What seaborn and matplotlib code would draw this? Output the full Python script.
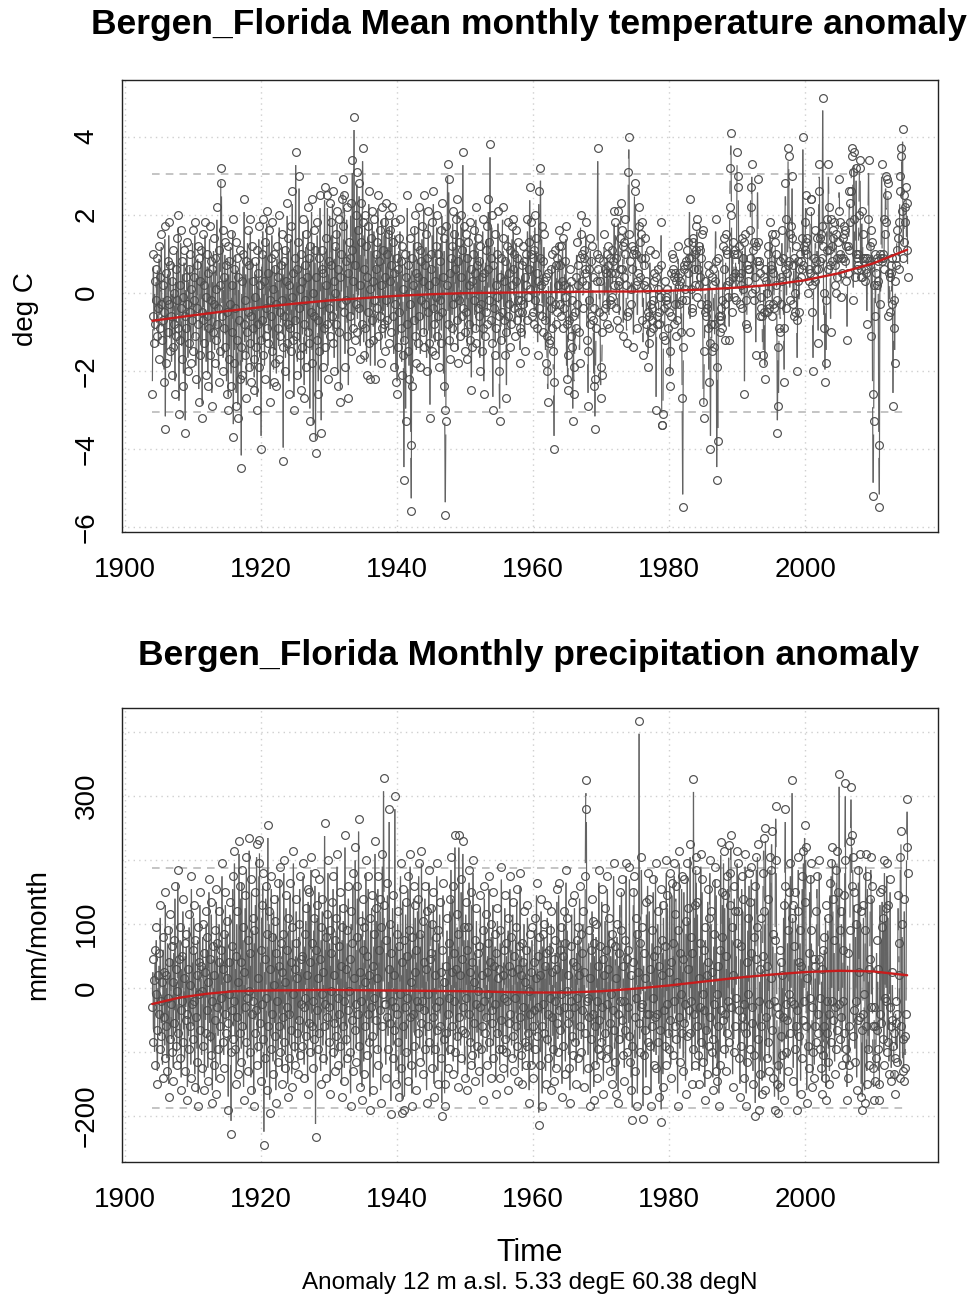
import numpy as np
import pandas as pd
import matplotlib
matplotlib.use("Agg")
import matplotlib.pyplot as plt
from matplotlib.collections import LineCollection
import seaborn as sns

# ---------------- data ----------------
start_year = 1904  # monthly series start in January 1904

temp_1904_1919 = [
    -2.6, -0.6, 1.0, -1.3, 0.3, -0.8, -0.2, 0.6, -1.1, 0.9, -0.4, -1.7,
    1.2, -0.9, 0.4, -0.3, 1.5, -1.2, -0.7, 0.2, -0.5, -2.3, 1.7, -3.5,
    0.5, -1.8, -0.2, 0.8, -1.0, 1.8, -0.3, -1.5, 0.7, -0.6, -2.1, 0.3,
    -1.4, 1.1, -0.8, 0.0, -2.6, 0.6, -1.1, 1.4, -0.2, -0.9, 2.0, -3.1,
    0.2, -1.2, 1.6, -0.4, -1.7, 0.8, -0.1, -2.4, 1.1, -0.6, -3.6, 0.4,
    -0.9, 1.3, -0.3, -2.0, 0.6, -1.3, 1.0, -0.5, -1.8, 0.1, -0.7, 1.6,
    -1.5, 0.4, -0.2, 1.8, -1.1, -2.2, 0.7, -0.4, 1.2, -0.8, -2.8, 0.9,
    0.3, -1.6, 1.1, -0.5, -3.2, 1.5, -0.7, 0.2, -1.3, 1.8, -0.1, -2.1,
    -0.6, 1.0, -2.4, 0.5, -0.9, 1.7, -1.6, -0.2, 0.8, -2.9, 0.6, -1.0,
    1.4, -0.3, -1.8, 0.9, -1.2, 0.1, 2.2, -0.8, -0.4, -2.3, 1.1, -1.5,
    0.2, 3.2, 2.8, -0.6, 1.6, -2.0, 0.4, -0.9, 1.3, -1.4, 0.7, -2.6,
    -0.5, 1.2, -3.0, 0.8, -1.7, -0.3, 1.5, -2.4, 0.2, -1.0, 1.9, -3.7,
    0.6, -1.8, -0.4, 1.3, -2.9, 0.9, -1.2, -3.2, 0.4, -0.7, 1.1, -2.2,
    -1.4, -4.5, 0.3, -2.1, 1.0, -0.8, 2.4, -1.6, -0.2, 0.8, -2.7, -1.0,
    1.6, -0.5, -1.9, 0.7, -1.3, 1.9, -0.6, -2.3, 1.2, -0.9, 0.3, -1.7,
    -2.5, 0.8, -0.1, -1.4, 1.1, -3.0, 0.5, -0.8, 1.7, -1.9, 0.2, -1.2,
]
temp_1920_1939 = [
    -4.0, 1.0, -0.7, 1.9, -1.6, 0.3, -2.2, 1.3, -0.4, -1.1, 2.1, -0.9,
    0.5, -1.3, 1.6, -0.2, -2.8, 0.9, -0.6, 1.8, -1.5, 0.1, -2.3, 1.0,
    -1.8, 0.6, -0.3, -2.4, 1.2, -0.9, 0.4, -1.7, 2.0, -0.5, -1.1, 0.7,
    -0.2, 1.5, -1.4, -4.3, 0.8, -0.6, 1.1, -2.0, 0.3, -1.3, 2.3, -0.8,
    1.4, -2.6, 0.2, -0.9, 1.7, -1.5, -0.1, 2.6, -1.2, 0.5, -3.0, 0.9,
    -0.7, 3.6, -1.1, 0.6, -2.1, 1.3, -0.4, 3.0, -1.6, 0.1, -2.5, 1.0,
    0.3, -1.4, 1.9, -0.8, -2.7, 0.7, -0.2, 1.5, -1.9, 0.4, -1.0, 2.2,
    -1.3, 0.9, -3.3, 1.2, -0.5, 2.4, -1.8, 0.0, -3.7, 1.6, -0.6, 1.1,
    -4.1, 0.4, -1.2, 1.8, -0.7, -2.6, 0.9, -1.5, 2.5, -0.3, -3.6, 0.6,
    1.1, -1.9, 0.5, -0.9, 2.7, -1.4, 0.2, 1.4, -0.8, 2.5, -2.2, 0.8,
    -0.4, 2.3, -1.1, 0.7, 1.8, -0.6, 2.6, -1.3, 0.3, -2.0, 1.2, 0.0,
    1.5, -0.8, 2.1, -2.4, 0.6, -1.0, 1.9, 0.4, -2.8, 1.0, -0.3, 2.4,
    2.9, 1.7, -0.5, 2.5, -1.9, 0.8, -0.2, 2.2, -1.1, 0.5, -2.7, 1.3,
    0.9, -0.6, 2.3, -1.5, 1.1, 3.4, -0.9, 0.3, 4.5, -1.2, 0.7, 2.0,
    -0.3, 3.1, -1.0, 1.6, -0.4, 2.8, 0.2, -1.7, 1.3, 2.3, -0.8, 3.7,
    1.8, -1.6, 0.6, 2.0, -0.9, 1.2, -2.1, 0.4, 1.7, -0.5, 2.6, -1.3,
    0.1, -2.2, 1.4, -0.7, 2.1, 0.3, -1.2, 1.9, -0.2, -2.2, 1.0, 0.6,
    1.3, -0.4, 2.5, -1.1, 0.8, -0.6, 1.6, -1.8, 0.2, 2.2, -0.9, 1.1,
    -0.8, 1.8, 0.4, -1.5, 2.3, -0.2, 1.0, -0.7, 1.5, -1.3, 2.0, 0.3,
    1.6, -1.0, 0.7, 2.2, -0.6, 1.3, -1.9, 0.5, 1.8, -0.3, -2.3, 0.9,
]
temp_1940_1959 = [
    -2.6, 0.6, -1.4, 1.4, -0.5, 1.9, -0.9, 0.8, -2.1, 1.2, 0.1, -1.6,
    -4.8, -1.2, 1.0, -3.3, 0.4, -0.8, 2.5, -1.5, 0.7, -2.2, 1.4, -0.3,
    -3.9, -5.6, 0.9, -2.4, 0.2, 1.6, -0.7, 2.0, -1.1, 0.5, -1.8, 1.2,
    0.4, -1.3, 2.2, -0.6, 1.1, -1.9, 0.8, -0.2, 1.7, -1.0, 0.3, 2.5,
    -1.4, 0.7, -0.3, 1.5, -2.0, 0.9, -0.5, 2.1, -1.3, 0.2, -3.2, 1.0,
    0.6, -1.5, 1.8, -0.4, 2.6, -0.8, 0.3, -1.6, 1.2, -0.1, 2.0, -1.1,
    1.0, -0.6, -1.9, 0.8, -0.2, 1.6, -1.3, 2.3, -0.5, 0.4, -2.4, 1.4,
    -3.0, -5.7, -3.3, 1.7, 0.2, 3.3, -0.8, 2.9, -1.2, 0.5, -1.7, 0.9,
    1.2, -0.9, 2.1, -0.3, 1.5, -1.4, 0.6, -0.1, 1.9, -0.7, 2.4, -1.8,
    0.8, -0.2, 1.3, -1.1, 0.4, 2.0, -0.6, 1.1, 3.6, -0.4, 1.7, -1.5,
    -1.0, 1.5, -0.5, 0.9, -1.7, 1.3, 0.2, -0.8, 1.8, -1.2, 0.6, -2.5,
    0.3, -1.4, 1.0, -0.2, 1.6, -0.9, 0.5, 2.2, -1.3, 0.7, -0.4, 1.4,
    -0.6, 0.8, -2.0, 1.2, -0.3, 0.4, -1.5, 1.9, -0.9, -2.6, 0.5, -1.1,
    1.1, -0.5, 1.7, -0.8, 0.6, 2.4, -0.2, 1.3, 3.8, -0.7, 0.9, 2.0,
    -1.3, -3.0, 0.7, -0.4, 1.5, -1.6, 0.2, -0.9, 1.0, -0.1, 2.1, -0.6,
    -2.0, -3.3, 0.4, -1.2, 0.9, -0.5, 2.2, 1.4, -0.7, 0.3, -1.6, 0.8,
    -1.0, -2.7, 1.2, -0.6, 1.8, -0.3, 0.5, -1.4, 1.1, -0.8, 0.2, 1.7,
    0.6, 1.9, -0.4, 1.0, -1.1, 0.3, 1.6, -0.7, 0.9, -0.2, 1.3, -0.5,
    -0.9, -1.8, -0.2, -1.0, 0.7, -0.5, 1.2, -0.3, 0.8, -1.5, 0.4, 1.0,
    0.2, -0.7, 1.9, -0.1, 1.3, 0.6, 2.7, 0.1, 1.8, 1.0, -0.6, 0.9,
]
temp_1960_1979 = [
    -0.5, 1.1, -0.8, 2.0, -0.2, 1.4, -0.9, 0.5, -1.6, 0.3, 2.6, -0.4,
    0.9, 3.2, 0.2, 1.7, -0.6, 0.8, -1.0, 1.5, 0.3, -0.7, -1.8, 0.4,
    -1.1, -2.0, -2.8, 0.5, -1.3, -0.2, -1.2, 0.6, -0.4, 1.0, -0.9, -1.5,
    -2.3, -4.0, -0.3, 1.1, -0.8, 0.7, -0.5, 0.9, 0.2, 1.6, 1.2, -0.3,
    0.7, 1.2, -0.6, 0.3, 1.4, -0.9, 0.2, -0.4, 0.8, -0.1, 1.7, -2.2,
    -0.8, -2.5, -1.6, 0.1, -0.7, 0.6, -1.1, 0.3, -0.2, -1.4, -3.3, -0.6,
    -2.6, -1.9, -0.5, -0.9, 0.4, 1.3, -0.3, 0.2, 0.7, -1.0, -1.8, 0.9,
    2.0, 1.5, 1.0, 0.3, -0.4, 0.9, 1.1, 0.6, 0.5, 1.8, 0.2, -1.2,
    -1.5, -2.9, 0.6, -0.2, -0.8, 1.4, -0.6, 0.8, 1.2, 0.4, -0.7, -2.4,
    -0.4, -3.5, -2.2, -0.9, 0.3, 1.0, 3.7, 0.6, 0.9, -0.5, 0.3, -2.7,
    -1.9, -2.1, -1.0, -0.6, 0.8, 1.5, -0.4, 0.6, 0.5, -0.3, 1.0, -0.8,
    1.2, 0.7, -0.9, -0.2, 0.9, -0.3, 0.5, 1.1, -0.1, 0.8, 0.2, 2.1,
    0.5, 1.8, 0.9, -0.4, -0.7, 0.2, 2.1, 0.3, -0.9, 0.6, 1.4, 2.3,
    1.6, 0.6, 1.2, -1.1, 0.4, 1.3, 1.9, 1.0, 0.2, -1.3, -0.6, -0.5,
    3.1, 4.0, 1.5, 0.8, 0.1, -0.3, 0.6, 1.2, 1.0, -1.4, 1.1, 2.8,
    2.6, 0.2, 1.0, 0.3, -0.9, 0.5, 2.2, 1.7, 1.3, 0.4, 0.9, 1.5,
    1.8, -0.7, -1.6, 0.2, 0.7, 0.9, 1.4, 0.3, -0.8, 0.1, -0.5, -1.9,
    -0.6, -1.3, 1.1, -1.0, -0.3, -0.7, -0.4, -0.9, -0.2, 0.5, 0.3, 1.0,
    0.4, -3.0, -0.8, -0.6, 0.6, 0.1, -0.8, -0.5, -0.1, 0.7, 1.8, -3.4,
    -3.4, -3.1, -1.1, -0.4, -1.2, 0.3, -0.2, -0.1, 0.1, -0.3, -0.9, -0.5,
]
temp_1980_1999 = [
    -2.0, -1.5, -2.4, -0.6, 0.5, 1.0, 0.6, 0.9, 0.4, -0.8, -0.3, 0.5,
    -1.1, 0.3, -0.7, 0.4, 1.2, -0.3, 0.2, 0.3, 0.5, -1.0, -0.2, -2.7,
    -5.5, -1.4, 0.6, 0.7, 0.1, -0.2, 0.8, 1.1, 0.7, 0.5, 1.3, 0.9,
    2.4, -1.0, 0.9, 0.1, -0.4, -0.5, 1.4, 1.3, 0.6, 1.0, 0.2, 1.7,
    1.1, 1.9, -0.1, 0.6, 1.2, 0.2, 0.4, 1.1, -0.3, 0.9, 1.5, 1.6,
    -2.8, -3.2, -1.5, -0.5, 0.3, -0.6, -0.4, -0.3, -0.9, 0.7, -2.3, 0.5,
    -1.3, -4.0, -0.8, -1.5, 0.4, 0.6, 0.2, -0.8, -1.4, 0.3, 1.9, 0.8,
    -4.8, -1.9, -3.8, 0.9, -0.6, -1.0, -0.7, -0.4, -0.6, -0.2, -0.9, 1.2,
    1.4, 0.6, -1.2, -0.3, 1.1, 1.5, 1.0, 0.2, -0.1, 0.3, -1.2, 2.2,
    3.2, 4.1, 2.0, -0.5, 1.3, 0.4, 1.0, -0.1, 0.5, 1.1, -0.2, 1.0,
    3.6, 3.0, 2.7, 0.4, 1.2, -0.3, 0.2, 0.5, -0.4, 1.4, 0.1, 0.9,
    1.3, -2.6, 1.5, -0.2, -0.8, -0.9, 0.7, 0.6, 0.3, 0.6, 0.9, 1.6,
    2.7, 2.2, 3.3, 0.0, 1.1, 1.3, -0.2, 0.1, 0.4, -1.6, 1.2, 0.8,
    2.9, 1.3, 0.8, 0.7, 0.5, -0.6, -0.4, -0.1, -0.6, -1.6, -1.8, 0.4,
    -0.5, -2.2, 0.6, 0.3, 0.0, -0.5, 1.2, 1.0, -0.3, -0.4, 1.8, 0.6,
    0.7, 1.5, -0.6, 0.5, -0.3, -0.4, 1.3, 1.5, 0.2, 1.0, -0.2, -3.6,
    -1.4, -2.9, -0.9, 0.8, -1.0, -0.3, 0.4, 1.6, 0.3, 0.9, -0.9, -2.3,
    0.6, 2.8, 1.9, -0.4, 0.5, 0.7, 3.7, 3.5, 0.8, -0.2, 1.5, 1.7,
    1.4, 3.0, 0.7, -0.3, 0.9, -0.6, -0.5, 0.0, 1.2, -0.7, -2.0, 0.3,
    0.8, -0.5, 0.6, 1.0, 0.4, 0.8, 1.4, 0.6, 4.0, 0.7, 1.2, 1.8,
]
temp_2000_2015 = [
    1.1, 2.5, 1.3, 1.0, 1.4, 0.0, 0.3, 0.6, 0.5, 2.1, 2.4, 2.4,
    0.2, -0.5, -2.0, 0.4, 0.9, 0.3, 1.6, 0.8, 0.6, 1.4, 0.6, -1.3,
    2.6, 3.3, 0.8, 1.4, 1.5, 1.7, 0.9, 5.0, 1.2, -0.9, 0.0, -2.3,
    -0.2, -1.8, 1.9, 1.1, 0.6, 3.3, 2.2, 1.1, 0.7, -1.0, 1.9, 1.2,
    0.8, 1.6, 1.4, 1.8, 0.7, 0.2, 0.0, 1.5, 0.9, 0.4, 1.3, 2.1,
    2.9, 1.8, 1.0, 0.9, -0.1, 0.5, 1.4, 0.9, 1.7, 1.5, 0.8, 1.6,
    1.2, 0.3, -1.2, 0.5, 1.2, 1.1, 2.6, 1.8, 2.3, 2.6, 3.5, 3.7,
    3.1, -0.2, 3.6, 1.9, 0.4, 1.0, 3.2, 0.6, 0.9, 0.7, 1.0, 2.0,
    3.4, 3.2, 0.4, 0.6, 2.1, 0.4, 1.5, 0.9, 0.8, 0.3, 0.9, 0.5,
    0.6, -0.8, 0.9, 1.9, 3.4, 0.8, 0.7, 1.2, 1.6, -1.1, 1.3, -2.6,
    -5.2, -3.3, 0.2, 1.0, -0.6, 0.5, 0.9, 0.2, 0.8, 0.3, -3.9, -5.5,
    1.0, -0.3, 0.9, 3.3, 0.8, 0.9, 1.0, 0.6, 1.9, 1.5, 3.0, 1.8,
    2.5, 2.9, 2.8, -0.6, 0.5, -0.5, 0.4, 0.7, 0.5, -0.3, 0.9, -2.9,
    -0.9, -0.2, -1.8, 0.3, 0.9, 0.7, 1.6, 1.1, 1.4, 1.8, 0.6, 2.6,
    3.0, 3.5, 3.7, 2.1, 4.2, 0.9, 2.5, 1.3, 1.8, 2.2, 2.7, 1.1,
    2.3, 0.4,
]

precip_1904_1919 = [
    -30, 45, -85, 12, -120, 60, -10, 95, -65, -150, 20, -40,
    55, -95, 130, -20, -75, 10, -140, 80, -45, 25, -110, 150,
    -60, 20, -130, 90, -15, -170, 40, -80, 115, -25, -100, 65,
    10, -145, 75, -55, 160, -90, 30, -120, -5, 185, -70, 45,
    -110, 95, -35, -160, 50, -20, 140, -85, 15, -130, 70, -50,
    85, -40, -175, 30, -95, 115, -60, 5, -140, 175, -25, 60,
    -80, 130, -20, -155, 75, -45, 20, -115, 95, -185, 40, -10,
    150, -65, 35, -125, -5, 100, -90, 55, -160, 25, -70, 120,
    -35, 80, -145, 10, 170, -75, 45, -105, 135, -20, -180, 65,
    20, -120, 90, -50, -165, 155, -30, 70, -95, 40, 120, -60,
    -140, 60, -15, 195, -85, 30, -125, 85, -40, 150, -70, 15,
    105, -55, -190, 40, -10, 135, -100, -228, 65, -35, 175, -80,
    -20, 215, -95, 50, -150, 120, -45, 10, -135, 230, -70, 160,
    40, -115, 185, -60, 95, -175, 25, -30, 145, -85, 205, -15,
    -130, 75, -5, 235, -100, 55, -160, 170, -40, 110, -20, -185,
    90, -70, 150, -35, 225, -120, 15, -90, 195, 231, -55, 60,
]
precip_1920_1939 = [
    -145, 130, -25, 180, -80, -245, 45, -110, 160, -15, -160, 85,
    255, -60, 120, -195, 30, -95, 175, -40, 80, -135, 140, 5,
    -75, 105, -180, 55, -20, 165, -115, 35, -60, 190, -100, 70,
    25, -150, 85, -45, 200, -85, 10, -125, 145, -30, 60, -170,
    110, -40, -110, 165, -65, 40, -155, 95, -10, 215, -90, 30,
    -120, 70, 140, -70, 15, -135, 100, -50, 175, -105, 45, -25,
    50, -90, 195, -30, -140, 85, -15, 125, -75, 20, -165, 155,
    -55, 150, -100, 40, 205, -60, 70, -125, -20, 110, -80, 180,
    -233, 60, -35, 130, -95, 15, 170, -70, 45, -150, 95, -10,
    140, -110, 25, -60, 258, -25, 80, -140, 115, -45, 200, -85,
    -30, 90, -165, 55, -5, 135, -100, 175, -55, 20, -130, 75,
    110, -75, 210, -15, -120, 65, -40, 150, -90, 35, -170, 95,
    -60, 125, -20, -145, 240, -80, 30, -110, 90, -35, 160, -5,
    45, -100, -185, 120, -50, 70, 180, -130, 15, -65, 220, -25,
    -115, 80, 160, -40, 265, -90, 25, -155, 105, -20, -175, 140,
    60, -135, 95, -60, 10, 200, -105, 50, -40, 175, -85, 20,
    -190, 110, -30, 145, -75, 35, -160, 85, -15, 230, -50, 125,
    15, -95, 175, -120, 60, -35, 140, -180, 95, -60, 210, -10,
    328, 130, -25, -25, -140, 75, -45, 165, -95, 30, 280, -55,
    100, -197, 55, -20, 145, -110, 20, -65, 300, -30, -150, 85,
]
precip_1940_1959 = [
    -40, 120, -85, -170, 65, -10, 195, -125, 40, -195, 155, -60,
    75, -190, -30, 135, -100, 50, -15, 175, -145, 90, -45, 210,
    -120, 10, -185, 80, -40, 160, -90, 25, 130, -160, 60, -20,
    140, -70, 195, -30, -115, 85, -55, 215, -20, 105, -135, 40,
    -35, 160, -95, 30, -180, 120, -10, -60, 185, -85, 45, 125,
    55, -125, 100, -45, 150, -170, 20, -95, 80, -30, 195, -65,
    -150, 90, -20, 135, -60, 25, -110, -200, 60, 165, -80, 10,
    -185, -150, 35, -70, 110, -40, -125, 70, -15, 140, -95, 205,
    25, -60, 160, -135, 55, -20, 240, -100, 30, -75, 115, -155,
    85, 240, -45, 20, -110, 170, -65, 45, 230, -30, 95, -140,
    -70, 135, -15, 60, -160, 95, -40, 185, -85, 25, -120, 150,
    40, -105, 200, -55, 10, -145, 75, -25, 125, -90, 55, -5,
    -130, 65, -30, 145, -95, 20, -60, -175, 90, -20, 160, -70,
    115, -45, 25, -120, 70, -10, 175, -85, 40, -140, 100, -35,
    -55, 150, -110, 35, -25, 85, -165, 55, -70, 125, 15, -95,
    30, -140, 90, -50, 190, -95, 20, -125, 60, -15, 145, -80,
    -100, 70, -20, -160, 110, -55, 35, 175, -40, 80, -110, 25,
    135, -75, 50, -130, -15, 95, -60, 155, -90, 30, -145, 65,
    -45, 180, -105, 20, 70, -150, 40, -30, 120, -85, 10, -120,
    60, -90, 130, -70, -5, -180, 85, -40, 25, -120, 95, -60,
]
precip_1960_1979 = [
    -140, 40, -35, 110, -95, 15, 165, -75, 50, -30, -215, 80,
    20, -120, 140, -60, -185, 85, -25, 100, -70, 35, -150, 55,
    -80, 130, -40, -110, 60, -15, 90, -160, 120, -45, 25, -95,
    45, -145, -20, 75, -125, 30, 155, -55, -100, 165, -35, 60,
    -65, 95, -10, -170, 50, -90, 120, -30, 70, -135, 185, -5,
    110, -55, 20, -125, -40, -180, 65, -20, 135, -75, 40, -105,
    -30, 145, -85, 35, -150, 75, -15, 95, -110, 20, 160, -60,
    85, -100, 55, -35, 120, -155, 25, -70, 175, 325, 280, -20,
    -15, -125, 90, -45, 15, -185, 60, -80, 140, -40, 105, -175,
    70, -60, -120, 100, -20, -140, 35, -95, 185, -50, 65, -105,
    -85, 155, -30, 45, -165, 20, -70, 125, -110, 60, -25, 175,
    30, -95, 110, -55, -130, 70, -10, -150, 85, -35, 195, -65,
    -115, 65, 15, -165, 100, -40, -180, 55, -80, 150, -20, 90,
    170, -50, -105, 35, -20, -145, 75, -65, 195, -100, 45, -30,
    60, -75, 190, -115, 20, -160, -90, -207, 40, 150, 175, -45,
    -130, 110, -15, 85, -185, 25, -55, 418, -100, 70, -30, 205,
    95, -25, -205, 55, -105, -65, 15, -160, 135, -40, 180, -85,
    -40, 140, -90, 30, -185, -60, 90, -15, 170, -120, 50, -45,
    195, -125, 60, -40, 120, -85, -170, 35, -65, 155, -210, 20,
    75, -155, 130, -35, -90, 65, -120, 200, -25, 145, -70, 25,
]
precip_1980_1999 = [
    -95, 180, -50, -140, 40, 165, -105, 70, -20, 195, -60, 115,
    160, -80, 10, -185, 90, -45, 215, -115, 55, -10, 175, -70,
    45, -130, 170, -55, -25, -165, 105, -75, 195, 30, 125, -35,
    -70, 225, -20, 80, -150, 55, -95, 327, -40, 130, -120, 205,
    185, -60, 135, -105, 15, -150, 70, -30, 210, -85, 170, -10,
    -115, 60, -35, -175, 95, -65, 20, -135, 155, 40, -90, 110,
    200, -45, 120, -100, 25, -160, -80, 85, -25, 190, -130, 165,
    -10, -145, 35, -60, -185, 60, -120, 228, -35, 80, 150, -50,
    215, -95, 145, -40, -130, 50, -70, 175, -20, 224, -85, 130,
    180, 240, -30, 95, -155, 20, -100, 160, -60, 120, -15, 70,
    215, 120, 195, -110, -35, -170, 65, -90, 175, -45, 140, -60,
    -25, -140, 210, -70, -185, 40, -115, 110, -10, 180, -95, 135,
    55, 190, -55, -30, -150, 80, -105, 160, -200, 45, 205, 95,
    225, -80, -20, -190, 30, -135, 110, -60, -165, 50, 180, 235,
    120, -160, 250, -45, -110, 35, -85, 140, -25, -130, 205, 15,
    185, 245, -65, 85, -140, -20, -190, 75, 285, 200, -30, -150,
    -120, -195, -40, 60, -155, -75, 40, -105, 20, -45, 130, -175,
    160, 280, -25, -100, -50, 90, -130, -10, 150, -70, 195, -20,
    110, 325, 130, -145, -25, 65, -95, 150, -60, -35, -190, 120,
    205, 40, -75, 90, -165, 35, -110, 175, -50, 215, -20, 255,
]
precip_2000_2015 = [
    135, 220, -60, -180, 15, -90, 55, -125, 170, -15, 195, 90,
    -30, -155, -100, 45, -140, -60, 35, -85, 120, 175, -70, -40,
    45, 200, -15, -95, -125, 30, -165, 60, -105, -60, 80, -140,
    130, -175, -20, -70, 110, -115, -40, -150, 165, -85, 195, -20,
    220, 140, -50, 75, -135, -30, -95, 185, 215, -65, 150, -25,
    335, 90, -80, -45, 120, -120, -20, 60, 145, -70, 200, 320,
    -95, -110, -175, 55, -140, -60, -120, 90, 230, 315, 160, 240,
    205, -75, 150, -35, -115, 100, -20, -160, 125, -50, 185, 25,
    210, -45, 120, -170, -65, -190, -40, 130, -10, -180, 90, 210,
    -60, -150, 175, -95, 30, -120, 45, 140, 205, -30, 160, -60,
    -125, -175, -30, -60, -145, -110, 75, -65, 30, -95, -150, -175,
    150, -40, -55, 95, 155, -80, 110, -120, 200, -15, 125, -20,
    195, -100, 130, -85, -135, -30, 170, -60, -145, -50, 25, -90,
    -70, -135, -165, -110, -20, -55, -115, -40, 145, 70, 20, -140,
    205, 245, -60, 100, -130, -80, -145, 140, -125, -75, -40, 220,
    296, 180,
]

# smooth trend curves (red lines) read at a few years
temp_trend_years = [1904, 1910, 1915, 1920, 1925, 1930, 1935, 1940, 1945, 1950, 1955, 1960,
                    1965, 1970, 1975, 1980, 1985, 1990, 1995, 2000, 2005, 2010, 2015]
temp_trend_vals = [-0.72, -0.58, -0.47, -0.37, -0.28, -0.2, -0.14, -0.08, -0.04, -0.01, 0.0, 0.01,
                   0.02, 0.03, 0.03, 0.05, 0.08, 0.13, 0.2, 0.32, 0.5, 0.75, 1.1]
precip_trend_years = [1904, 1908, 1912, 1916, 1920, 1930, 1940, 1950, 1960, 1965, 1970, 1975,
                      1980, 1985, 1990, 1995, 2000, 2005, 2010, 2015]
precip_trend_vals = [-25, -15, -9, -5, -4, -3, -4, -5, -7, -7, -5, -1,
                     4, 10, 16, 21, 25, 27, 26, 20]

temp_2sd = 3.05
precip_2sd = 187

temp_ticks = [-6, -4, -2, 0, 2, 4]
temp_ticklabels = ["\u22126", "\u22124", "\u22122", "0", "2", "4"]
precip_ticks = [-200, -100, 0, 100, 200, 300, 400]
precip_ticklabels = ["\u2212200", "", "0", "100", "", "300", ""]
year_ticks = [1900, 1920, 1940, 1960, 1980, 2000]

title_temp = "Bergen_Florida Mean monthly temperature anomaly"
title_precip = "Bergen_Florida Monthly precipitation anomaly"
ylabel_temp = "deg C"
ylabel_precip = "mm/month"
xlabel = "Time"
subtitle = "Anomaly 12 m a.sl. 5.33 degE 60.38 degN"

# ---------------- build frames ----------------
temp = np.array(temp_1904_1919 + temp_1920_1939 + temp_1940_1959 + temp_1960_1979
                + temp_1980_1999 + temp_2000_2015, dtype=float)
precip = np.array(precip_1904_1919 + precip_1920_1939 + precip_1940_1959 + precip_1960_1979
                  + precip_1980_1999 + precip_2000_2015, dtype=float)

df_t = pd.DataFrame({"time": start_year + np.arange(len(temp)) / 12.0, "value": temp})
df_p = pd.DataFrame({"time": start_year + np.arange(len(precip)) / 12.0, "value": precip})

# ---------------- style ----------------
sns.set_style("white")
plt.rcParams["font.family"] = ["Liberation Sans", "DejaVu Sans"]
plt.rcParams["text.color"] = "black"

LINE_C = "#636363"
MARK_C = "#4e4e4e"
GRID_C = "#cfcfcf"
DASH_C = "#b4b4b4"
RED_C = "#c81c1c"
MARKER_PT = 5.6      # marker diameter in points
GAP_PX = 13.0        # R type="b": segments stop about half a character short of each point

fig = plt.figure(figsize=(9.74, 13.0), dpi=100)
ax1 = fig.add_axes([0.1253, 0.5908, 0.8378, 0.3477])
ax2 = fig.add_axes([0.1253, 0.1062, 0.8378, 0.3492])


def gapped_lines(ax, df):
    """Connect consecutive points like R's type='b' (lines broken around points)."""
    xy = ax.transData.transform(df[["time", "value"]].to_numpy())
    p0, p1 = xy[:-1], xy[1:]
    d = p1 - p0
    L = np.hypot(d[:, 0], d[:, 1])
    keep = L > 2 * GAP_PX
    u = d[keep] / L[keep, None]
    a = ax.transData.inverted().transform(p0[keep] + u * GAP_PX)
    b = ax.transData.inverted().transform(p1[keep] - u * GAP_PX)
    segs = np.stack([a, b], axis=1)
    ax.add_collection(LineCollection(segs, colors=LINE_C, linewidths=0.85, zorder=2,
                                     capstyle="butt"))


def draw(ax, df, ty, tv, sd, ylim, yticks, ylabels):
    ax.set_xlim(1899.55, 2019.55)
    ax.set_ylim(*ylim)
    ax.set_xticks(year_ticks)
    ax.set_yticks(yticks)
    ax.grid(True, linestyle=(0, (1, 3)), color=GRID_C, linewidth=1.0, zorder=0)
    t0, t1 = df["time"].iloc[0], df["time"].iloc[-1]
    ax.hlines([sd, -sd], t0, t1, colors=DASH_C, linestyles=(0, (5, 4)), linewidth=1.1, zorder=1)
    gapped_lines(ax, df)
    sns.lineplot(data=df, x="time", y="value", ax=ax, linestyle="none",
                 marker="o", markersize=MARKER_PT, markerfacecolor="none",
                 markeredgecolor=MARK_C, markeredgewidth=0.85,
                 estimator=None, sort=False, zorder=3)
    sns.lineplot(x=ty, y=tv, ax=ax, color=RED_C, linewidth=1.7, estimator=None,
                 sort=False, zorder=4)
    ax.set_xlim(1899.55, 2019.55)
    ax.set_ylim(*ylim)
    ax.set_xlabel("")
    ax.set_ylabel("")
    ax.set_xticklabels([str(y) for y in year_ticks], fontsize=20, color="black")
    ax.set_yticklabels(ylabels, fontsize=20, rotation=90, va="center", color="black")
    ax.tick_params(axis="both", direction="out", length=9, width=1.0, color="#222222",
                   pad=9, labelcolor="black")
    ax.tick_params(axis="y", pad=7)
    for s in ax.spines.values():
        s.set_color("#222222")
        s.set_linewidth(1.0)


draw(ax1, df_t, temp_trend_years, temp_trend_vals, temp_2sd, (-6.13, 5.45),
     temp_ticks, temp_ticklabels)
draw(ax2, df_p, precip_trend_years, precip_trend_vals, precip_2sd, (-272, 438),
     precip_ticks, precip_ticklabels)

fig.text(0.543, 0.981, title_temp, ha="center", va="center", fontsize=25.5, fontweight="bold")
fig.text(0.543, 0.496, title_precip, ha="center", va="center", fontsize=25.5, fontweight="bold")
fig.text(0.027, 0.762, ylabel_temp, ha="center", va="center", rotation=90, fontsize=20)
fig.text(0.039, 0.281, ylabel_precip, ha="center", va="center", rotation=90, fontsize=20)
fig.text(0.544, 0.036, xlabel, ha="center", va="center", fontsize=22)
fig.text(0.544, 0.013, subtitle, ha="center", va="center", fontsize=17.5)

fig.savefig("out.png", dpi=100, facecolor="white")
